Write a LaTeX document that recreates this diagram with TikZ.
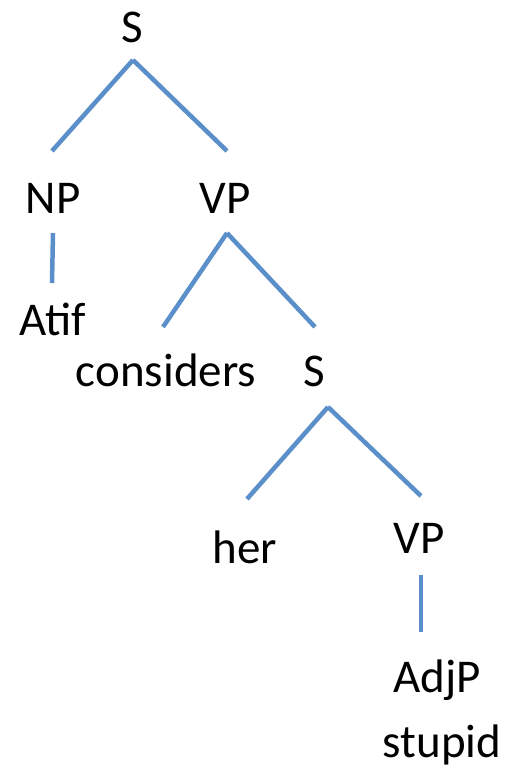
\documentclass[tikz,border=0pt]{standalone}
\usepackage{fontspec}
\setmainfont{Carlito}
\definecolor{branch}{RGB}{91,143,201}
\begin{document}
\begin{tikzpicture}[x=1pt,y=-1pt,
  lbl/.style={anchor=base,inner sep=0pt,font=\fontsize{47}{56}\selectfont},
  edge/.style={draw=branch,line width=4.5pt}]
\useasboundingbox (0,0) rectangle (504,772);
% labels
\node[lbl] (s1) at (132,42) {S};
\node[lbl] (np) at (53,213) {NP};
\node[lbl] (vp1) at (225,213) {VP};
\node[lbl] (atif) at (53,335) {Atif};
\node[lbl] (cons) at (166,386) {considers};
\node[lbl] (s2) at (314,386) {S};
\node[lbl] (her) at (245,563) {her};
\node[lbl] (vp2) at (419,553) {VP};
\node[lbl] (adjp) at (437,692) {AdjP};
\node[lbl] (stupid) at (442,757) {stupid};
% branch end points
\coordinate (s1b) at (133,60);
\coordinate (npt) at (52,151);
\coordinate (vp1t) at (227,151);
\coordinate (npb) at (53,233);
\coordinate (atift) at (52,283);
\coordinate (vp1b) at (227,233);
\coordinate (const) at (163,327);
\coordinate (s2t) at (315,327);
\coordinate (s2b) at (328,407);
\coordinate (hert) at (247,499);
\coordinate (vp2t) at (421,496);
\coordinate (vp2b) at (421,575);
\coordinate (adjpt) at (421,632);
% branches
\draw[edge] (s1b) -- (npt);
\draw[edge] (s1b) -- (vp1t);
\draw[edge] (npb) -- (atift);
\draw[edge] (vp1b) -- (const);
\draw[edge] (vp1b) -- (s2t);
\draw[edge] (s2b) -- (hert);
\draw[edge] (s2b) -- (vp2t);
\draw[edge] (vp2b) -- (adjpt);
\end{tikzpicture}
\end{document}
